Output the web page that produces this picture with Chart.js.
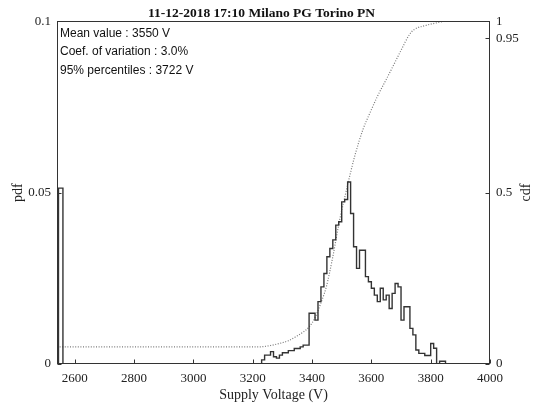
<!DOCTYPE html>
<html>
<head>
<meta charset="utf-8">
<script src="https://cdn.jsdelivr.net/npm/chart.js@4/dist/chart.umd.min.js"></script>
<style>
  html, body { margin: 0; padding: 0; background: #fff; }
</style>
</head>
<body>
<canvas id="chart" width="539" height="409"></canvas>
<script>
"use strict";

/* ---------- data ---------- */
// histogram bins: left edge (V) and pdf value of that bin, last entry closes the outline
const binEdges = [
  2545, 2560,
  3230, 3240, 3250, 3260, 3270, 3280, 3290, 3300, 3310, 3320, 3330, 3340, 3350, 3360, 3370, 3380,
  3390, 3400, 3410, 3420, 3430, 3440, 3450, 3460, 3470, 3480, 3490, 3500, 3510, 3520, 3530, 3540,
  3550, 3560, 3570, 3580, 3590, 3600, 3610, 3620, 3630, 3640, 3650, 3660, 3670, 3680, 3690, 3700,
  3710, 3720, 3730, 3740, 3750, 3760, 3770, 3780, 3790, 3800, 3810, 3820, 3830, 3840, 3850
];
const pdfValues = [
  0.0513, 0,
  0.0012, 0.0026, 0.0026, 0.0036, 0.0021, 0.0017, 0.0026, 0.0033, 0.0033, 0.0039, 0.0039, 0.0045, 0.0045, 0.0050, 0.0055, 0.0055,
  0.0148, 0.0148, 0.0128, 0.0182, 0.0225, 0.0264, 0.0313, 0.0337, 0.0362, 0.0405, 0.0415, 0.0473, 0.0480, 0.0531, 0.0439, 0.0342,
  0.0279, 0.0332, 0.0332, 0.0255, 0.0240, 0.0221, 0.0201, 0.0182, 0.0221, 0.0187, 0.0201, 0.0162, 0.0206, 0.0235, 0.0225, 0.0128,
  0.0167, 0.0167, 0.0104, 0.0085, 0.0041, 0.0031, 0.0031, 0.0025, 0.0025, 0.0060, 0.0046, 0, 0.0008, 0.0008, 0
];

// cumulative distribution (dotted curve, right axis)
const cdfVoltage = [2540, 3220, 3260, 3290, 3320, 3346, 3370, 3391, 3410, 3425, 3448, 3470, 3493, 3510,
  3526, 3545, 3572, 3594, 3620, 3650, 3672, 3700, 3729, 3745, 3785, 3830, 3850, 4000];
const cdfValues = [0.05, 0.05, 0.054, 0.06, 0.068, 0.08, 0.093, 0.109, 0.135, 0.167, 0.225, 0.313, 0.42, 0.485,
  0.545, 0.61, 0.685, 0.73, 0.78, 0.83, 0.867, 0.915, 0.962, 0.976, 0.988, 0.997, 1.0, 1.0];

const xTicks = [2600, 2800, 3000, 3200, 3400, 3600, 3800, 4000];
const pdfTicks = [0, 0.05, 0.1];
const cdfTicks = [0, 0.5, 0.95, 1];

const titleText = "11-12-2018 17:10 Milano PG Torino PN";
const statsLines = ["Mean value : 3550 V", "Coef. of variation : 3.0%", "95% percentiles : 3722 V"];

/* ---------- helpers ---------- */
const SERIF = "'Liberation Serif', 'Times New Roman', serif";
const SANS = "'Liberation Sans', Arial, sans-serif";
const INK = "#222";
const plain = v => String(v);
const noGrid = { display: false, drawTicks: false, tickLength: 0 };

// frame, inward tick marks, stats text and the right axis label
const decorations = {
  id: "decorations",
  afterDraw(chart) {
    const { ctx, chartArea: a, scales } = chart;
    const L = Math.round(a.left) + 0.5, R = Math.round(a.right) - 0.5;
    const T = Math.round(a.top) + 0.5, B = Math.round(a.bottom) - 0.5;
    ctx.save();
    ctx.strokeStyle = "#333";
    ctx.lineWidth = 1;
    ctx.strokeRect(L, T, R - L, B - T);

    ctx.beginPath();
    xTicks.forEach(v => {
      const px = Math.round(scales.x.getPixelForValue(v)) + 0.5;
      ctx.moveTo(px, B); ctx.lineTo(px, B - 4);
    });
    pdfTicks.forEach(v => {
      const py = Math.round(scales.y.getPixelForValue(v)) + 0.5;
      ctx.moveTo(L, py); ctx.lineTo(L + 4, py);
    });
    cdfTicks.forEach(v => {
      const py = Math.round(scales.y2.getPixelForValue(v)) + 0.5;
      ctx.moveTo(R, py); ctx.lineTo(R - 4, py);
    });
    ctx.stroke();

    ctx.fillStyle = "#111";
    ctx.font = "12px " + SANS;
    ctx.textAlign = "left";
    ctx.textBaseline = "middle";
    statsLines.forEach((s, i) => ctx.fillText(s, a.left + 3, a.top + 12 + i * 18.8));

    ctx.fillStyle = INK;
    ctx.font = "14px " + SERIF;
    ctx.textAlign = "center";
    ctx.translate(526, (a.top + a.bottom) / 2);
    ctx.rotate(-Math.PI / 2);
    ctx.fillText("cdf", 0, 0);
    ctx.restore();
  }
};

const histPoints = [{ x: binEdges[0], y: 0 }].concat(binEdges.map((e, i) => ({ x: e, y: pdfValues[i] })));
const cdfPoints = cdfVoltage.map((v, i) => ({ x: v, y: cdfValues[i] }));

new Chart(document.getElementById("chart"), {
  type: "line",
  data: {
    datasets: [
      {
        label: "pdf", data: histPoints, yAxisID: "y", stepped: true,
        borderColor: "#333", borderWidth: 1.4, pointRadius: 0, fill: false
      },
      {
        label: "cdf", data: cdfPoints, yAxisID: "y2", cubicInterpolationMode: "monotone",
        borderColor: "#7a7a7a", borderWidth: 1.2, borderDash: [1, 1.6], pointRadius: 0, fill: false
      }
    ]
  },
  options: {
    responsive: false,
    animation: false,
    layout: { padding: { top: 0, right: 16, bottom: 0, left: 0 } },
    plugins: {
      legend: { display: false },
      tooltip: { enabled: false },
      title: {
        display: true, text: titleText, color: "#111",
        font: { family: SERIF, size: 13.5, weight: "bold" },
        padding: { top: 5, bottom: 0 }
      }
    },
    scales: {
      x: {
        type: "linear", min: 2540, max: 4000,
        afterBuildTicks: s => { s.ticks = xTicks.map(v => ({ value: v })); },
        afterFit: s => { s.height = 45; },
        grid: noGrid, border: { display: false },
        ticks: { color: INK, font: { family: SERIF, size: 13 }, padding: 7, maxRotation: 0, autoSkip: false, callback: plain },
        title: { display: true, text: "Supply Voltage (V)", color: INK, font: { family: SERIF, size: 14 }, padding: { top: 0, bottom: 5 } }
      },
      y: {
        position: "left", min: 0, max: 0.1,
        afterBuildTicks: s => { s.ticks = pdfTicks.map(v => ({ value: v })); },
        afterFit: s => { s.width = 57; },
        grid: noGrid, border: { display: false },
        ticks: { color: INK, font: { family: SERIF, size: 13 }, padding: 6, callback: plain },
        title: { display: true, text: "pdf", color: INK, font: { family: SERIF, size: 14 }, padding: { top: 10, bottom: 0 } }
      },
      y2: {
        position: "right", min: 0, max: 1,
        afterBuildTicks: s => { s.ticks = cdfTicks.map(v => ({ value: v })); },
        afterFit: s => { s.width = 33; },
        grid: noGrid, border: { display: false },
        ticks: { color: INK, font: { family: SERIF, size: 13 }, padding: 6, callback: plain }
      }
    }
  },
  plugins: [decorations]
});
</script>
</body>
</html>
